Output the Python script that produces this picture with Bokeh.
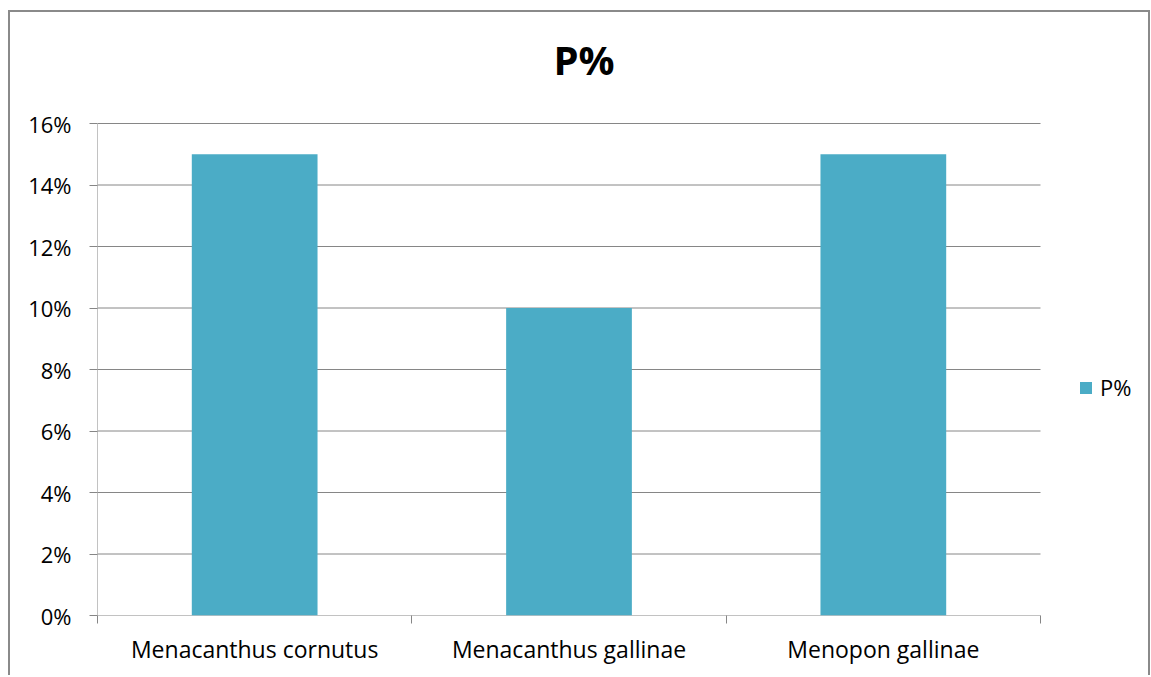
from bokeh.plotting import figure
from bokeh.models import (ColumnDataSource, FixedTicker, NumeralTickFormatter, Range1d,
                          Legend, LegendItem, Label)
from bokeh.embed import file_html
from bokeh.resources import INLINE

# ---- data ----
categories = ["Menacanthus cornutus", "Menacanthus gallinae", "Menopon gallinae"]
values = [0.15, 0.10, 0.15]
y_ticks = [0.0, 0.02, 0.04, 0.06, 0.08, 0.10, 0.12, 0.14, 0.16]
series_name = "P%"
title_text = "P%"

FONT = "Open Sans"
GRID = "#868686"
BAR = "#4BACC6"

# layout constants (pixels)
W, H = 1142, 665
MB_L, MB_R, MB_T, MB_B = 87, 4, 0, 62
PLOT_W = 943          # width of the category area inside the frame
PLOT_H = 492          # height of the value area inside the frame

n = len(categories)
xs = [i + 0.5 for i in range(n)]
src = ColumnDataSource(dict(x=xs, top=values, cat=categories))
frame_w = W - MB_L - MB_R
frame_h = H - MB_T - MB_B
y_top = y_ticks[-1]
x_end = n * frame_w / PLOT_W
y_end = y_top * frame_h / PLOT_H

p = figure(width=W, height=H, output_backend="svg", toolbar_location=None,
           x_range=Range1d(0, x_end), y_range=Range1d(0, y_end),
           min_border_left=MB_L, min_border_right=MB_R, min_border_top=MB_T,
           min_border_bottom=MB_B)
p.styles = {"border-left": "2px solid #8a8a8a", "border-top": "2px solid #8a8a8a",
            "border-right": "2px solid #8a8a8a", "margin-left": "8px",
            "margin-top": "10px"}
p.outline_line_color = None
p.background_fill_color = "white"
p.border_fill_color = "white"

# gridlines and value axis line limited to the plot area
p.segment(x0=[0] * len(y_ticks), x1=[n] * len(y_ticks), y0=y_ticks, y1=y_ticks,
          line_color=GRID, line_width=1)
p.segment(x0=[0], x1=[0], y0=[0], y1=[y_top], line_color=GRID, line_width=1)

r = p.vbar(x="x", top="top", bottom=0, width=0.4, source=src,
           fill_color=BAR, line_color=None)

# title
p.add_layout(Label(x=n / 2, y=y_top, x_offset=15, y_offset=64, text=title_text,
                   text_align="center", text_baseline="alphabetic",
                   text_font=FONT, text_font_size="40px",
                   text_font_style="bold", text_color="black"))

# x axis
xa = p.xaxis[0]
xa.ticker = FixedTicker(ticks=xs, minor_ticks=list(range(n + 1)))
xa.major_label_overrides = {x: c for x, c in zip(xs, categories)}
xa.major_tick_out = 0
xa.major_tick_in = 0
xa.minor_tick_out = 8
xa.minor_tick_in = 0
xa.minor_tick_line_color = GRID
xa.axis_line_color = None
xa.major_label_standoff = 9
xa.major_label_text_font = FONT
xa.major_label_text_font_size = "23px"
xa.major_label_text_color = "black"

# y axis
ya = p.yaxis[0]
ya.ticker = FixedTicker(ticks=y_ticks)
ya.formatter = NumeralTickFormatter(format="0%")
ya.major_tick_out = 8
ya.major_tick_in = 0
ya.minor_tick_line_color = None
ya.major_tick_line_color = GRID
ya.axis_line_color = None
ya.major_label_standoff = 18
ya.major_label_text_font = FONT
ya.major_label_text_font_size = "22px"
ya.major_label_text_color = "black"

p.xgrid.grid_line_color = None
p.ygrid.grid_line_color = None

# legend
legend = Legend(items=[LegendItem(label=series_name, renderers=[r])],
                location=(981, 213), padding=0, margin=0, spacing=0,
                glyph_width=15, glyph_height=15, label_height=22,
                label_standoff=7, border_line_color=None,
                background_fill_alpha=0,
                label_text_font=FONT, label_text_font_size="22px",
                label_text_color="black")
p.add_layout(legend)

open("out.html", "w").write(file_html(p, INLINE))
